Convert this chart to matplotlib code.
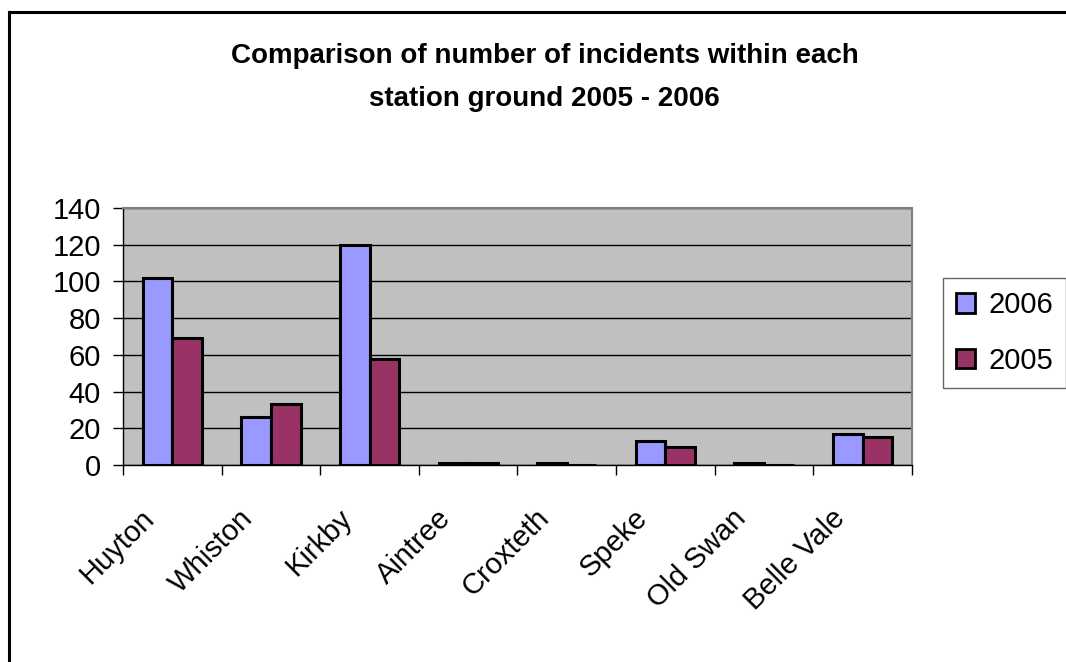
import numpy as np
import matplotlib.pyplot as plt
from matplotlib.lines import Line2D
from matplotlib.transforms import ScaledTranslation

stations = ['Huyton', 'Whiston', 'Kirkby', 'Aintree', 'Croxteth', 'Speke', 'Old Swan', 'Belle Vale']
incidents_2006 = [102, 26, 120, 1, 1, 13, 1, 17]
incidents_2005 = [69, 33, 58, 1, 0, 10, 0, 15]

plt.rcParams['font.family'] = ['Liberation Sans', 'DejaVu Sans']

fig = plt.figure(figsize=(10.66, 6.62), dpi=100)
ax = fig.add_axes([0.1154, 0.2976, 0.7401, 0.3882])
ax.set_facecolor('#c0c0c0')

x = np.arange(len(stations))
w = 0.3
b1 = ax.bar(x - w / 2, incidents_2006, w, color='#9999ff', edgecolor='black', linewidth=2.2, label='2006', zorder=3)
b2 = ax.bar(x + w / 2, incidents_2005, w, color='#993366', edgecolor='black', linewidth=2.2, label='2005', zorder=3)

ax.set_xlim(-0.5, len(stations) - 0.5)
ax.set_ylim(0, 140)
ax.set_yticks(range(0, 141, 20))
ax.yaxis.grid(True, color='black', linewidth=1, zorder=1)
ax.set_axisbelow(True)

ax.set_xticks(x)
ax.set_xticklabels(stations, rotation=45, ha='right', va='center', rotation_mode='anchor', fontsize=21)
ax.tick_params(axis='x', which='major', length=0, pad=35)
offset = ScaledTranslation(-22 / 100, 0, fig.dpi_scale_trans)
for lbl in ax.get_xticklabels():
    lbl.set_transform(lbl.get_transform() + offset)
ax.set_xticks(np.arange(-0.5, len(stations)), minor=True)
ax.tick_params(axis='x', which='minor', length=7, width=1, direction='out')
ax.tick_params(axis='y', labelsize=21, length=7, width=1, direction='out', pad=9)

for s in ['top', 'right']:
    ax.spines[s].set_color('#808080')
    ax.spines[s].set_linewidth(1.5)
for s in ['left', 'bottom']:
    ax.spines[s].set_color('black')
    ax.spines[s].set_linewidth(1)

fig.text(0.511, 0.883, 'Comparison of number of incidents within each\nstation ground 2005 - 2006',
         ha='center', va='center', fontsize=20, fontweight='bold', linespacing=1.85)

leg = ax.legend(handles=[b1, b2], loc='upper left', bbox_to_anchor=(0.8846, 0.58),
                bbox_transform=fig.transFigure, fontsize=21, frameon=True, fancybox=False,
                handlelength=0.65, handleheight=0.65, handletextpad=0.45, labelspacing=0.95,
                borderpad=0.45, borderaxespad=0)
leg.get_frame().set_edgecolor('#404040')
leg.get_frame().set_linewidth(1)
for h in leg.legend_handles:
    h.set_linewidth(2)

fig.add_artist(Line2D([0.0084, 0.0084], [0, 0.9826], transform=fig.transFigure, color='black', linewidth=2.2))
fig.add_artist(Line2D([0.0084, 1], [0.9826, 0.9826], transform=fig.transFigure, color='black', linewidth=2.2))

fig.savefig('out.png', dpi=100)
